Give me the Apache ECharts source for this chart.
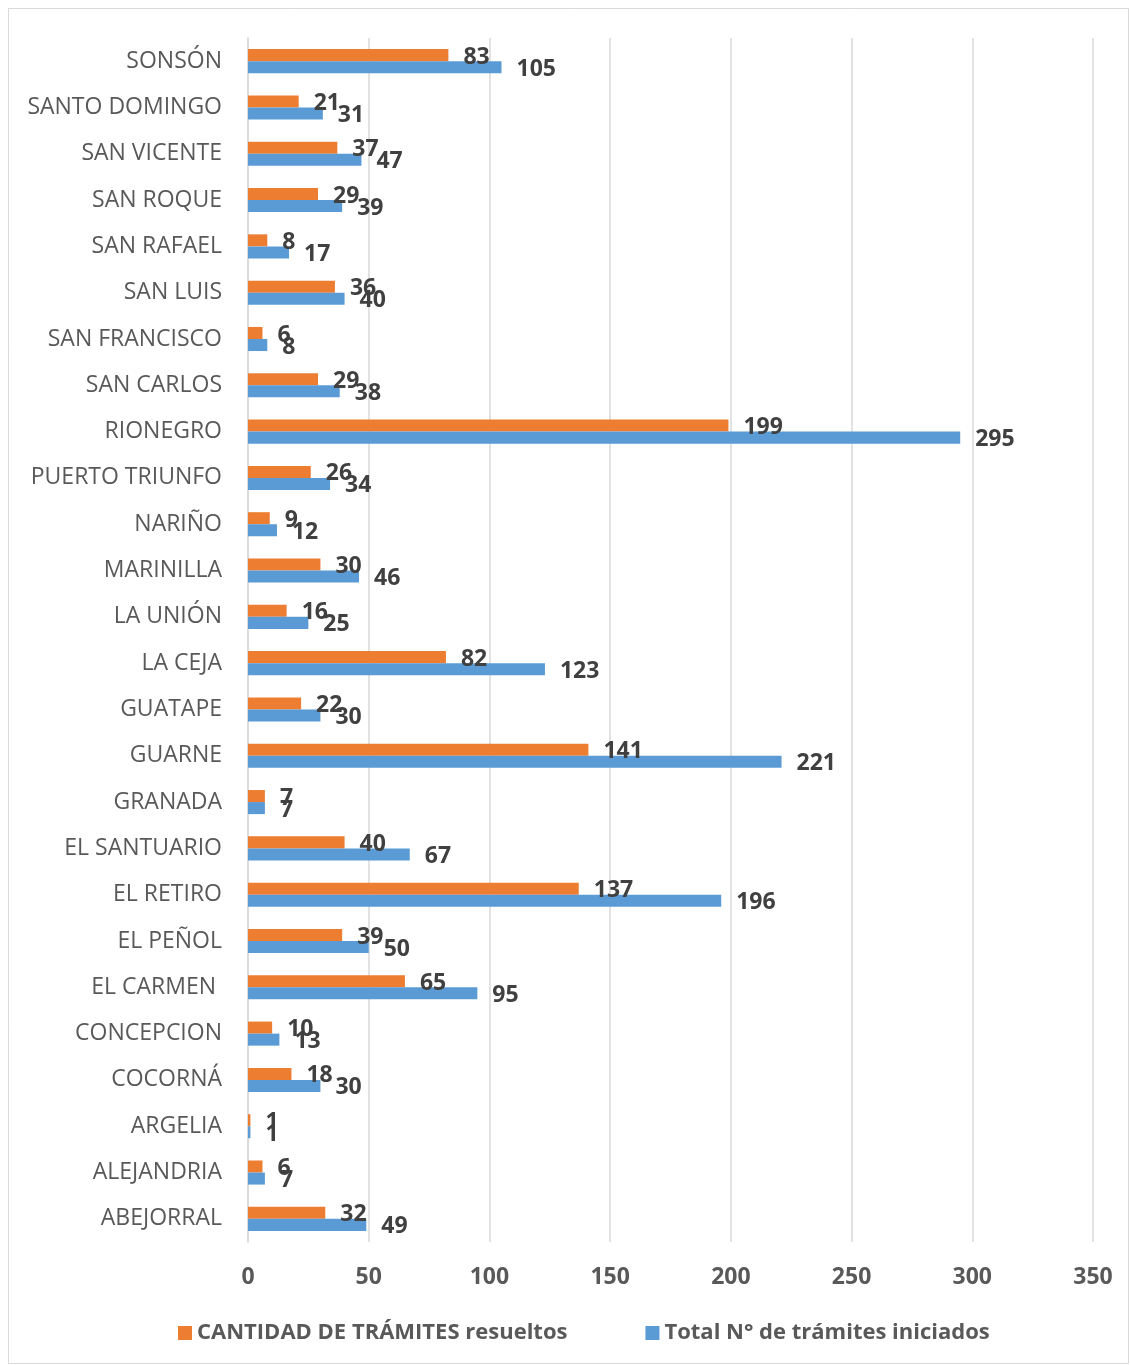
<!DOCTYPE html>
<html><head><meta charset="utf-8">
<script src="https://cdn.jsdelivr.net/npm/echarts@6/dist/echarts.min.js"></script>
<style>html,body{margin:0;padding:0;background:#fff;}#c{width:1130px;height:1365px;}</style>
</head><body><div id="c"></div>
<script>
const categories = ['ABEJORRAL','ALEJANDRIA','ARGELIA','COCORNÁ','CONCEPCION','EL CARMEN ','EL PEÑOL','EL RETIRO','EL SANTUARIO','GRANADA','GUARNE','GUATAPE','LA CEJA','LA UNIÓN','MARINILLA','NARIÑO','PUERTO TRIUNFO','RIONEGRO','SAN CARLOS','SAN FRANCISCO','SAN LUIS','SAN RAFAEL','SAN ROQUE','SAN VICENTE','SANTO DOMINGO','SONSÓN'];
const resueltos = [32,6,1,18,10,65,39,137,40,7,141,22,82,16,30,9,26,199,29,6,36,8,29,37,21,83];
const iniciados = [49,7,1,30,13,95,50,196,67,7,221,30,123,25,46,12,34,295,38,8,40,17,39,47,31,105];
const seriesNames = ['CANTIDAD DE TRÁMITES resueltos','Total N° de trámites iniciados'];
const xTicks = {min:0, max:350, interval:50};

const font = '"Open Sans", "DejaVu Sans", sans-serif';
const chart = echarts.init(document.getElementById('c'), null, {renderer:'canvas'});
const labelStyle = {show:true, position:'right', distance:15, offset:[0,2], color:'#404040', fontWeight:'bold', fontSize:23, fontFamily:font};
chart.setOption({
  animation:false,
  graphic:[{type:'rect', shape:{x:8.5,y:8.5,width:1120,height:1355}, style:{fill:'none', stroke:'#d9d9d9', lineWidth:1}}],
  grid:{left:248, right:37, top:38, bottom:123, containLabel:false},
  legend:{bottom:16, left:173, itemWidth:14, itemHeight:14, itemGap:78, icon:'rect',
    textStyle:{color:'#595959', fontWeight:'bold', fontSize:22, fontFamily:font},
    data:seriesNames},
  xAxis:{type:'value', min:xTicks.min, max:xTicks.max, interval:xTicks.interval,
    axisLine:{show:false}, axisTick:{show:false},
    splitLine:{lineStyle:{color:'#d9d9d9', width:1.5}},
    axisLabel:{color:'#595959', fontWeight:'bold', fontSize:23, fontFamily:font, margin:24}},
  yAxis:{type:'category', data:categories,
    axisLine:{show:true, lineStyle:{color:'#d9d9d9', width:1.5}}, axisTick:{show:false},
    axisLabel:{color:'#595959', fontSize:23, fontFamily:font, margin:26, padding:[4,0,0,0]}},
  series:[
    {name:seriesNames[0], type:'bar', data:resueltos, barGap:'0%', barCategoryGap:'48%',
      itemStyle:{color:'#ED7D31'}, label:labelStyle},
    {name:seriesNames[1], type:'bar', data:iniciados, barGap:'0%', barCategoryGap:'48%',
      itemStyle:{color:'#5B9BD5'}, label:labelStyle}
  ]
});
</script></body></html>
